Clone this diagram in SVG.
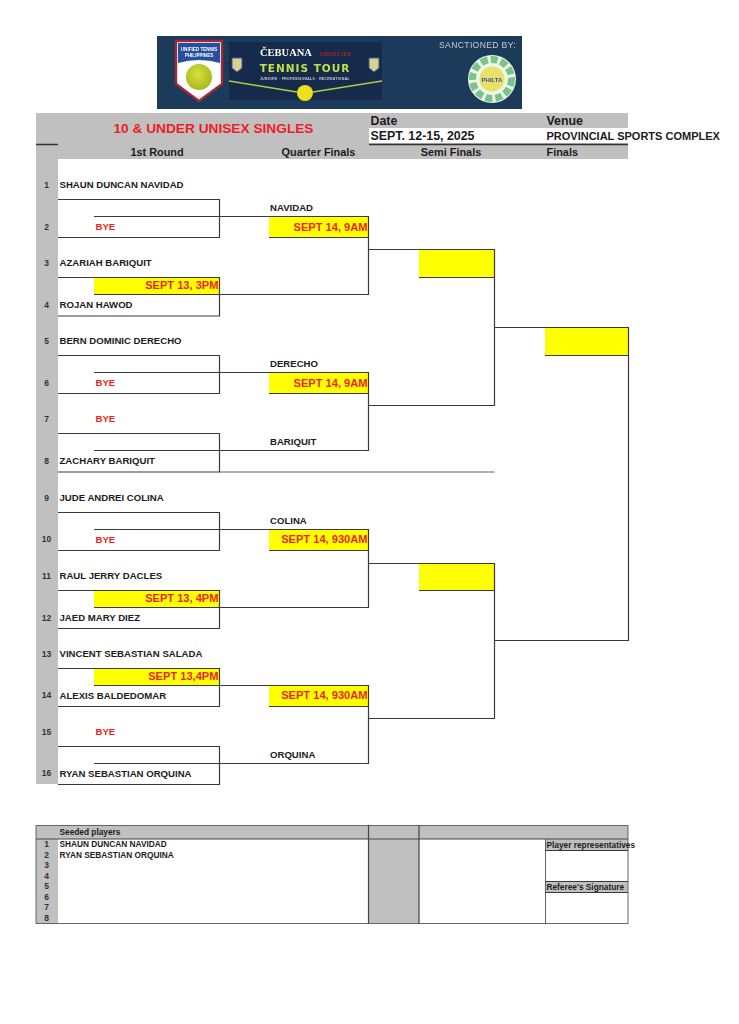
<svg xmlns="http://www.w3.org/2000/svg" width="739" height="1024" viewBox="0 0 739 1024">
<defs>
<style>
text{font-family:"Liberation Sans",Arial,sans-serif;font-weight:bold;fill:#1c1c1c}
.n{font-size:8.5px;text-anchor:middle;fill:#333}
.p{font-size:9.6px}
.r{font-size:9.6px;fill:#f01f1f}
.d{font-size:11.1px;fill:#f01f1f;text-anchor:end}
.h{font-size:10.9px}
.hc{font-size:10.9px;text-anchor:middle}
.s{font-size:8.3px}
.g{fill:#c0c0c0}
.y{fill:#ffff00}
.l{stroke:#3a3a3a;stroke-width:1.2;fill:none}
.t{stroke:#333;stroke-width:1.4;fill:none}
</style>
<filter id="b" x="-5%" y="-5%" width="110%" height="110%"><feGaussianBlur stdDeviation="0.35"/></filter>
<radialGradient id="ball" cx="0.45" cy="0.4" r="0.6"><stop offset="0" stop-color="#d7e23a"/><stop offset="1" stop-color="#a9b81f"/></radialGradient>
</defs>
<rect width="739" height="1024" fill="#ffffff"/>

<g id="logo-banner" filter="url(#b)">
<rect x="157" y="36" width="365" height="73" fill="#1f3a5a"/>
<path d="M176 41H222V84L199 101L176 84Z" fill="#ffffff" stroke="#a5283a" stroke-width="2.400"/>
<path d="M178 43H220V63Q199 57 178 63Z" fill="#27509f"/>
<circle cx="199" cy="77" r="13" fill="url(#ball)"/>
<text x="199" y="51" font-size="4.600" text-anchor="middle" style="fill:#ffffff">UNIFIED TENNIS</text>
<text x="199" y="57" font-size="4.600" text-anchor="middle" style="fill:#ffffff">PHILIPPINES</text>
<rect x="229" y="42" width="153" height="58" fill="#14294c"/>
<path d="M229 81L297 92M382 81L313 92" stroke="#b4cc3c" stroke-width="1.600" fill="none"/>
<path d="M232 58H242V68L237 72L232 68ZM369 58H379V68L374 72L369 68Z" fill="#d8d28a" stroke="#3d5aa0" stroke-width="1"/>
<circle cx="305" cy="93" r="8" fill="#ecdf1e"/>
<text x="260" y="56" font-size="10.500" style="fill:#ffffff;font-family:'Liberation Serif',serif">ČEBUANA</text>
<text x="320" y="56" font-size="5.500" style="fill:#a8242c;font-family:'Liberation Serif',serif">LHUILLIER</text>
<text x="305" y="72" font-size="10.500" text-anchor="middle" letter-spacing="1" style="fill:#c4e04a;font-family:'DejaVu Sans',sans-serif">TENNIS TOUR</text>
<text x="305" y="80" font-size="3.300" text-anchor="middle" letter-spacing="0.4" style="fill:#d4d8e0">JUNIORS · PROFESSIONALS · RECREATIONAL</text>
<text x="439" y="48" font-size="8.600" letter-spacing="0.35" style="fill:#c4ccd6;font-weight:normal">SANCTIONED BY:</text>
<circle cx="492" cy="79" r="24" fill="#f0f6e4"/>
<circle cx="492" cy="79" r="19.500" fill="none" stroke="#78c48c" stroke-width="7" stroke-dasharray="7 3"/>
<circle cx="492" cy="79" r="12.500" fill="#e6e26a"/>
<text x="492" y="81.500" font-size="6" text-anchor="middle" style="fill:#3d4aa0">PHILTA</text>
</g>

<g id="header">
<rect class="g" x="36" y="113" width="592" height="46"/>
<rect x="369" y="128" width="259" height="15" fill="#ffffff"/>
<path class="t" d="M36 144.500H58M369 144.500H628" stroke-width="1.600"/>
<text x="213.500" y="133" font-size="13.700" text-anchor="middle" style="fill:#ee1c25">10 &amp; UNDER UNISEX SINGLES</text>
<text x="370.500" y="125" font-size="12.400">Date</text>
<text x="546.500" y="125" font-size="12.400">Venue</text>
<text x="370.500" y="140" font-size="12.400">SEPT. 12-15, 2025</text>
<text x="546.500" y="139.500" font-size="11">PROVINCIAL SPORTS COMPLEX</text>
<text class="hc" x="157" y="155.500">1st Round</text>
<text class="hc" x="318.500" y="155.500">Quarter Finals</text>
<text class="hc" x="451" y="155.500">Semi Finals</text>
<text x="546.500" y="155.500" class="h">Finals</text>
</g>

<g id="round-number-column">
<rect class="g" x="36" y="159" width="22" height="625"/>
<text class="n" x="46.500" y="188">1</text>
<text class="n" x="46.500" y="230">2</text>
<text class="n" x="46.500" y="266">3</text>
<text class="n" x="46.500" y="308">4</text>
<text class="n" x="46.500" y="344">5</text>
<text class="n" x="46.500" y="386">6</text>
<text class="n" x="46.500" y="422">7</text>
<text class="n" x="46.500" y="464">8</text>
<text class="n" x="46.500" y="501">9</text>
<text class="n" x="46.500" y="542">10</text>
<text class="n" x="46.500" y="579">11</text>
<text class="n" x="46.500" y="621">12</text>
<text class="n" x="46.500" y="657">13</text>
<text class="n" x="46.500" y="698">14</text>
<text class="n" x="46.500" y="735">15</text>
<text class="n" x="46.500" y="776">16</text>
</g>

<g id="date-cells">
<rect class="y" x="269" y="217" width="99" height="20"/>
<rect class="y" x="94" y="277" width="125" height="17"/>
<rect class="y" x="419" y="250" width="75" height="27"/>
<rect class="y" x="545" y="328" width="83" height="27"/>
<rect class="y" x="269" y="373" width="99" height="20"/>
<rect class="y" x="269" y="530" width="99" height="20"/>
<rect class="y" x="419" y="563" width="75" height="27"/>
<rect class="y" x="94" y="590" width="125" height="17"/>
<rect class="y" x="94" y="668" width="125" height="17"/>
<rect class="y" x="269" y="686" width="99" height="20"/>
</g>

<g id="connectors">
<path class="l" d="M58 199.500H219.500V237.500H58M94 216.500H368.500V294.500H94M269 237.500H368.500"/>
<path class="l" d="M58 277.500H219.500V316H58"/>
<path class="l" d="M368.500 249.500H494.500V405.500H368.500M419 277.500H494.500"/>
<path class="l" d="M494.500 327.500H628.500V640.500H494.500M545 355.500H628.500"/>
<path class="l" d="M58 355.500H219.500V393.500H58M94 372.500H368.500V450.500H94M269 393.500H368.500"/>
<path class="l" d="M58 433.500H219.500V472H58"/>
<path class="l" style="stroke-width:.8" d="M219.500 472H494.500"/>
<path class="l" d="M58 512.500H219.500V550.500H58M94 529.500H368.500V607.500H94M269 550.500H368.500"/>
<path class="l" d="M58 590.500H219.500V628.500H58"/>
<path class="l" d="M368.500 563.500H494.500V718.500H368.500M419 590.500H494.500"/>
<path class="l" d="M58 668.500H219.500V706.500H58M94 685.500H368.500V763.500H94M269 706.500H368.500"/>
<path class="l" d="M58 746.500H219.500V784.500H58"/>
</g>

<g id="players">
<text class="p" x="59.500" y="188">SHAUN DUNCAN NAVIDAD</text>
<text class="r" x="95.500" y="230">BYE</text>
<text class="p" x="59.500" y="266">AZARIAH BARIQUIT</text>
<text class="p" x="59.500" y="308">ROJAN HAWOD</text>
<text class="p" x="59.500" y="344">BERN DOMINIC DERECHO</text>
<text class="r" x="95.500" y="386">BYE</text>
<text class="r" x="95.500" y="422">BYE</text>
<text class="p" x="59.500" y="464">ZACHARY BARIQUIT</text>
<text class="p" x="59.500" y="501">JUDE ANDREI COLINA</text>
<text class="r" x="95.500" y="542.500">BYE</text>
<text class="p" x="59.500" y="579">RAUL JERRY DACLES</text>
<text class="p" x="59.500" y="621">JAED MARY DIEZ</text>
<text class="p" x="59.500" y="657">VINCENT SEBASTIAN SALADA</text>
<text class="p" x="59.500" y="698.500">ALEXIS BALDEDOMAR</text>
<text class="r" x="95.500" y="735">BYE</text>
<text class="p" x="59.500" y="776.500">RYAN SEBASTIAN ORQUINA</text>
</g>

<g id="quarter-winners">
<text class="p" x="270" y="210.500">NAVIDAD</text>
<text class="p" x="270" y="366.500">DERECHO</text>
<text class="p" x="270" y="444.500">BARIQUIT</text>
<text class="p" x="270" y="523.500">COLINA</text>
<text class="p" x="270" y="757.500">ORQUINA</text>
</g>

<g id="match-times">
<text class="d" x="367.500" y="230.500">SEPT 14, 9AM</text>
<text class="d" x="218.500" y="289">SEPT 13, 3PM</text>
<text class="d" x="367.500" y="386.500">SEPT 14, 9AM</text>
<text class="d" x="367.500" y="543">SEPT 14, 930AM</text>
<text class="d" x="218.500" y="601.500">SEPT 13, 4PM</text>
<text class="d" x="218.500" y="680">SEPT 13,4PM</text>
<text class="d" x="367.500" y="699">SEPT 14, 930AM</text>
</g>

<g id="seeded-table">
<rect class="g" x="36" y="825" width="592" height="14"/>
<rect class="g" x="36" y="839" width="22" height="84"/>
<rect class="g" x="369" y="839" width="50" height="84"/>
<rect class="g" x="545" y="839" width="83" height="11"/>
<rect class="g" x="545" y="881" width="83" height="11"/>
<path class="t" style="stroke:#666;stroke-width:1" d="M36 825.500H628V923.500H36ZM545.500 839V923.500"/>
<path class="t" style="stroke:#444;stroke-width:1.200" d="M36 839H628M368.500 825V923.500M419 825V923.500"/>
<path class="l" d="M545 850.500H628M545 881.500H628M545 892.500H628"/>
<text class="s" x="59.500" y="835">Seeded players</text>
<text class="s" x="546.500" y="848">Player representatives</text>
<text class="s" x="546.500" y="890">Referee's Signature</text>
<text class="s" x="59.500" y="847">SHAUN DUNCAN NAVIDAD</text>
<text class="s" x="59.500" y="857.500">RYAN SEBASTIAN ORQUINA</text>
<text class="n" x="46.500" y="847">1</text>
<text class="n" x="46.500" y="857.500">2</text>
<text class="n" x="46.500" y="868">3</text>
<text class="n" x="46.500" y="878.500">4</text>
<text class="n" x="46.500" y="889">5</text>
<text class="n" x="46.500" y="899.500">6</text>
<text class="n" x="46.500" y="910">7</text>
<text class="n" x="46.500" y="920.500">8</text>
</g>
</svg>
